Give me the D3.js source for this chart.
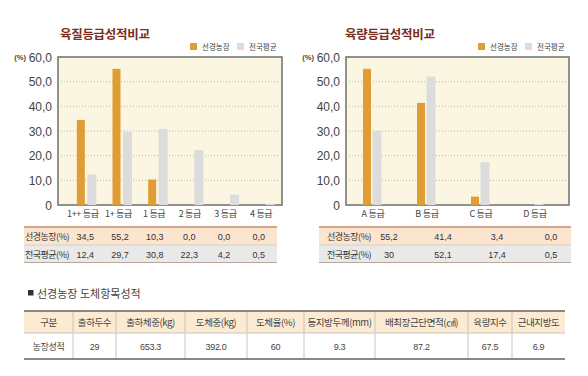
<!DOCTYPE html>
<html>
<head>
<meta charset="utf-8">
<script src="https://cdn.jsdelivr.net/npm/d3@7"></script>
<style>
  body { margin: 0; background: #fff; }
  svg { display: block; font-family: "Liberation Sans", "Noto Sans CJK KR", sans-serif; }
  .kr { font-family: "Noto Sans CJK KR", sans-serif; }
</style>
</head>
<body>
<svg id="chart" width="588" height="376"></svg>
<script>
// grade charts
const qualityGrades = ["1++ 등급", "1+ 등급", "1 등급", "2 등급", "3 등급", "4 등급"];
const qualityFarm = [34.5, 55.2, 10.3, 0.0, 0.0, 0.0];
const qualityNation = [12.4, 29.7, 30.8, 22.3, 4.2, 0.5];

const yieldGrades = ["A 등급", "B 등급", "C 등급", "D 등급"];
const yieldFarm = [55.2, 41.4, 3.4, 0.0];
const yieldNation = [30, 52.1, 17.4, 0.5];

const yTicks = [0, 10, 20, 30, 40, 50, 60];
const seriesNames = ["선경농장", "전국평균"];
const rowLabels = ["선경농장(%)", "전국평균(%)"];

// carcass table
const carcassHeaders = ["구분", "출하두수", "출하체중(kg)", "도체중(kg)", "도체율(%)", "등지방두께(mm)", "배최장근단면적(㎠)", "육량지수", "근내지방도"];
const carcassValues = ["농장성적", "29", "653.3", "392.0", "60", "9.3", "87.2", "67.5", "6.9"];
const carcassCols = [24, 73, 116, 185, 247, 304, 375, 468, 512, 565];

const colors = { farm: "#E09D36", nation: "#DCDCDC" };

const svg = d3.select("#chart");

const fmtComma = f => v => d3.format(f)(v).replace(".", ",");

function drawGradeChart(cfg) {
    const g = svg.append("g");

    // title + legend
    g.append("text").attr("class", "kr")
        .attr("x", cfg.titleX).attr("y", 39)
        .attr("font-size", 12.5).attr("font-weight", "bold")
        .attr("fill", "#7A2E20").attr("letter-spacing", -0.3)
        .text(cfg.title);

    const leg = g.append("g").attr("transform", `translate(${cfg.legendX},43)`);
    [[0, colors.farm, seriesNames[0]], [47, colors.nation, seriesNames[1]]].forEach(([dx, c, t]) => {
        leg.append("rect").attr("x", dx).attr("y", 0).attr("width", 7).attr("height", 7).attr("fill", c);
        leg.append("text").attr("class", "kr").attr("x", dx + 12).attr("y", 6.5)
            .attr("font-size", 7.5).attr("fill", "#444").text(t);
    });

    const x = d3.scaleBand().domain(cfg.grades).range(cfg.bandRange);
    const y = d3.scaleLinear().domain([0, 60]).range([205, 57]);

    // plot area
    g.append("rect")
        .attr("x", cfg.plot[0]).attr("y", y(60))
        .attr("width", cfg.plot[1] - cfg.plot[0]).attr("height", y(0) - y(60))
        .attr("fill", "#FBF6E2").attr("stroke", "#6E6E6E").attr("stroke-width", 1.5);

    g.selectAll(".grid").data(yTicks.filter(t => t > 0 && t < 60)).join("line")
        .attr("x1", cfg.plot[0] + 3).attr("x2", cfg.plot[1] - 3)
        .attr("y1", d => y(d)).attr("y2", d => y(d))
        .attr("stroke", "#BDB9A8").attr("stroke-dasharray", "1,2");

    g.selectAll(".ytick").data(yTicks).join("text")
        .attr("x", cfg.plot[0] - 6).attr("y", d => y(d) + 4.5)
        .attr("text-anchor", "end").attr("font-size", 12).attr("fill", "#444")
        .text(d => d === 0 ? "0" : fmtComma(".1f")(d));
    g.append("text").attr("x", cfg.plot[0] - 32).attr("y", y(60) + 3)
        .attr("text-anchor", "end").attr("font-size", 7.5).attr("font-weight", "bold")
        .attr("fill", "#444").text("(%)");

    // bars
    const bw = 8;
    g.selectAll(".farm").data(cfg.farm).join("rect")
        .attr("x", (d, i) => x(cfg.grades[i]) + x.bandwidth() / 2 - bw - 1)
        .attr("y", d => y(d)).attr("width", bw).attr("height", d => y(0) - y(d))
        .attr("fill", colors.farm);
    g.selectAll(".nation").data(cfg.nation).join("rect")
        .attr("x", (d, i) => x(cfg.grades[i]) + x.bandwidth() / 2 + cfg.gap)
        .attr("y", d => y(d)).attr("width", bw + 1).attr("height", d => y(0) - y(d))
        .attr("fill", colors.nation);

    g.selectAll(".xlab").data(cfg.grades).join("text").attr("class", "kr")
        .attr("x", d => x(d) + x.bandwidth() / 2 + cfg.labelShift).attr("y", 217)
        .attr("text-anchor", "middle").attr("font-size", 9).attr("letter-spacing", -0.3)
        .attr("fill", "#444").text(d => d);

    // data table under chart
    const tx = d3.scaleBand().domain(cfg.grades).range(cfg.tableRange);
    const t = g.append("g");
    t.append("rect").attr("x", cfg.table[0]).attr("y", 227).attr("width", cfg.table[1] - cfg.table[0])
        .attr("height", 18).attr("fill", "#FCE5CE");
    t.append("rect").attr("x", cfg.table[0]).attr("y", 245).attr("width", cfg.table[1] - cfg.table[0])
        .attr("height", 17.5).attr("fill", "#E9E9E9");
    t.append("line").attr("x1", cfg.table[0]).attr("x2", cfg.table[1]).attr("y1", 227).attr("y2", 227)
        .attr("stroke", "#C98B68").attr("stroke-width", 1.5);
    t.append("line").attr("x1", cfg.table[0]).attr("x2", cfg.table[1]).attr("y1", 245).attr("y2", 245)
        .attr("stroke", "#D8CFC8").attr("stroke-width", 1);
    t.append("line").attr("x1", cfg.table[0]).attr("x2", cfg.table[1]).attr("y1", 262.5).attr("y2", 262.5)
        .attr("stroke", "#B8A79C").attr("stroke-width", 1);

    const rows = [[cfg.farm, cfg.farmFmt], [cfg.nation, cfg.nationFmt]];
    rows.forEach(([vals, fmt], r) => {
        const ty = 240 + r * 17.5;
        t.append("text").attr("class", "kr").attr("x", cfg.table[0] + cfg.rowIndent).attr("y", ty)
            .attr("font-size", 9).attr("letter-spacing", -0.5).attr("fill", "#333").text(rowLabels[r]);
        t.selectAll(null).data(vals).join("text")
            .attr("x", (d, i) => tx(cfg.grades[i]) + tx.bandwidth() / 2).attr("y", ty)
            .attr("text-anchor", "middle").attr("font-size", 9).attr("fill", "#333")
            .text(d => fmtComma(fmt)(d));
    });
}

drawGradeChart({
    title: "육질등급성적비교", titleX: 60, legendX: 190,
    grades: qualityGrades, farm: qualityFarm, nation: qualityNation,
    plot: [58, 282], bandRange: [68, 282], gap: 1.5, labelShift: -3,
    table: [24, 277], tableRange: [68, 276], rowIndent: 1,
    farmFmt: ".1f", nationFmt: ".1f"
});

drawGradeChart({
    title: "육량등급성적비교", titleX: 345, legendX: 478,
    grades: yieldGrades, farm: yieldFarm, nation: yieldNation,
    plot: [346, 569], bandRange: [345, 561], gap: 0.5, labelShift: 1,
    table: [319, 571], tableRange: [362, 578], rowIndent: 8,
    farmFmt: ".1f", nationFmt: "~f"
});

// carcass results section
svg.append("rect").attr("x", 28).attr("y", 290).attr("width", 5.5).attr("height", 5.5).attr("fill", "#333");
svg.append("text").attr("class", "kr").attr("x", 37).attr("y", 297.5)
    .attr("font-size", 11).attr("fill", "#444").text("선경농장 도체항목성적");

const ct = svg.append("g");
const tL = carcassCols[0], tR = carcassCols[carcassCols.length - 1];
ct.append("rect").attr("x", tL).attr("y", 311).attr("width", tR - tL).attr("height", 22).attr("fill", "#FCEBD3");
ct.selectAll(".vline").data(carcassCols.slice(1, -1)).join("line")
    .attr("x1", d => d).attr("x2", d => d).attr("y1", 311).attr("y2", 359)
    .attr("stroke", "#C9C4BF").attr("stroke-width", 1);
ct.append("line").attr("x1", tL).attr("x2", tR).attr("y1", 333).attr("y2", 333)
    .attr("stroke", "#C9C4BF");
ct.append("line").attr("x1", tL).attr("x2", tR).attr("y1", 311).attr("y2", 311)
    .attr("stroke", "#6B5F58").attr("stroke-width", 1.5);
ct.append("line").attr("x1", tL).attr("x2", tR).attr("y1", 359).attr("y2", 359)
    .attr("stroke", "#6B5F58").attr("stroke-width", 1.5);

const colMid = i => (carcassCols[i] + carcassCols[i + 1]) / 2;
ct.selectAll(".head").data(carcassHeaders).join("text").attr("class", "kr")
    .attr("x", (d, i) => colMid(i)).attr("y", 326)
    .attr("text-anchor", "middle").attr("font-size", 9.5).attr("letter-spacing", -0.4)
    .attr("fill", "#444").text(d => d);
ct.selectAll(".val").data(carcassValues).join("text")
    .attr("class", (d, i) => i === 0 ? "kr" : null)
    .attr("x", (d, i) => colMid(i)).attr("y", 350)
    .attr("text-anchor", "middle").attr("font-size", 9).attr("letter-spacing", -0.3)
    .attr("fill", "#444").text(d => d);
</script>
</body>
</html>
